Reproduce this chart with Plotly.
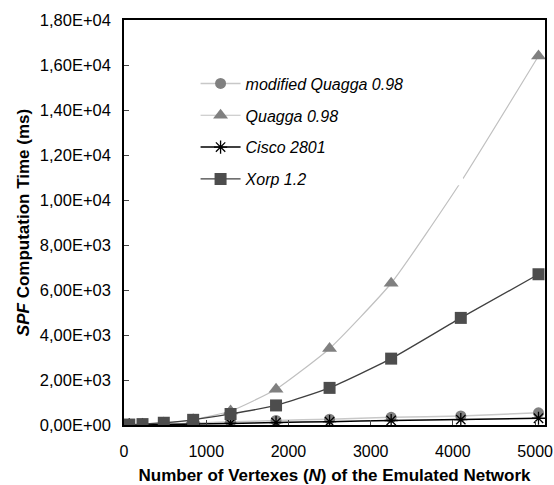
import plotly.graph_objects as go

# Data
N = [64, 225, 484, 841, 1296, 1849, 2500, 3249, 4096, 5041]
modified_quagga = [5, 15, 40, 80, 140, 200, 260, 340, 400, 540]
quagga = [10, 30, 90, 230, 620, 1590, 3400, 6300, 10800, 16400]
cisco = [3, 8, 20, 40, 70, 110, 150, 200, 240, 300]
xorp = [20, 40, 100, 230, 490, 870, 1650, 2950, 4760, 6700]

y_tickvals = [0, 2000, 4000, 6000, 8000, 10000, 12000, 14000, 16000, 18000]
y_ticktext = ["0,00E+00", "2,00E+03", "4,00E+03", "6,00E+03", "8,00E+03",
              "1,00E+04", "1,20E+04", "1,40E+04", "1,60E+04", "1,80E+04"]
x_tickvals = [0, 1000, 2000, 3000, 4000, 5000]

FONT = "Liberation Sans, Arial, sans-serif"

fig = go.Figure()

fig.add_trace(go.Scatter(
    x=N, y=modified_quagga, mode="lines+markers", name="<i>modified Quagga 0.98</i>",
    legendgroup="a",
    line=dict(color="#c8c8c8", width=1.5, shape="spline", smoothing=0.5),
    marker=dict(symbol="circle", size=11, color="#808080"),
))
q_colors = ["#808080"] * len(N)
q_colors[8] = "#ffffff"
fig.add_trace(go.Scatter(
    x=N, y=quagga, mode="lines+markers", name="<i>Quagga 0.98</i>",
    legendgroup="b",
    line=dict(color="#c0c0c0", width=1.2, shape="spline", smoothing=0.5),
    marker=dict(symbol="triangle-up", size=13, color=q_colors),
))
fig.add_trace(go.Scatter(
    x=N, y=cisco, mode="lines+markers", name="<i>Cisco 2801</i>",
    legendgroup="c",
    line=dict(color="#000000", width=1.5, shape="spline", smoothing=0.5),
    marker=dict(symbol="asterisk-open", size=11, color="#000000", line=dict(width=1.3, color="#000000")),
))
fig.add_trace(go.Scatter(
    x=N, y=xorp, mode="lines+markers", name="<i>Xorp 1.2</i>",
    legendgroup="d",
    line=dict(color="#404040", width=1.3, shape="spline", smoothing=0.5),
    marker=dict(symbol="square", size=12, color="#4d4d4d"),
))

fig.update_layout(
    width=554, height=485,
    margin=dict(l=124, r=9, t=20, b=60, autoexpand=False),
    paper_bgcolor="white", plot_bgcolor="white",
    font=dict(family=FONT, size=16, color="black"),
    showlegend=True,
    legend=dict(
        x=0.17, y=0.885, xanchor="left", yanchor="top",
        bgcolor="rgba(0,0,0,0)", font=dict(family=FONT, size=16, color="black"),
        traceorder="grouped", tracegroupgap=8, itemwidth=40,
    ),
    xaxis=dict(
        range=[0, 5120], tickvals=x_tickvals, ticks="inside", ticklen=5,
        showline=True, linecolor="black", linewidth=1.5, mirror=True,
        showgrid=False, zeroline=False, ticklabelstandoff=11,
        ticklabeloverflow="allow", automargin=False,
        tickfont=dict(family=FONT, size=16, color="black"),
        title=dict(text="<b>Number of Vertexes (<i>N</i>) of the Emulated Network</b>",
                   font=dict(family=FONT, size=17, color="black"), standoff=11),
    ),
    yaxis=dict(
        range=[0, 18000], tickvals=y_tickvals, ticktext=y_ticktext, ticks="inside", ticklen=5,
        showline=True, linecolor="black", linewidth=1.5, mirror=True,
        showgrid=False, zeroline=False, ticklabelstandoff=8, automargin=False,
        tickfont=dict(family=FONT, size=16.5, color="black"),
        title=dict(text="<b><i>SPF</i> Computation Time (ms)</b>",
                   font=dict(family=FONT, size=17, color="black"), standoff=6),
    ),
)

fig.write_html("out.html")
